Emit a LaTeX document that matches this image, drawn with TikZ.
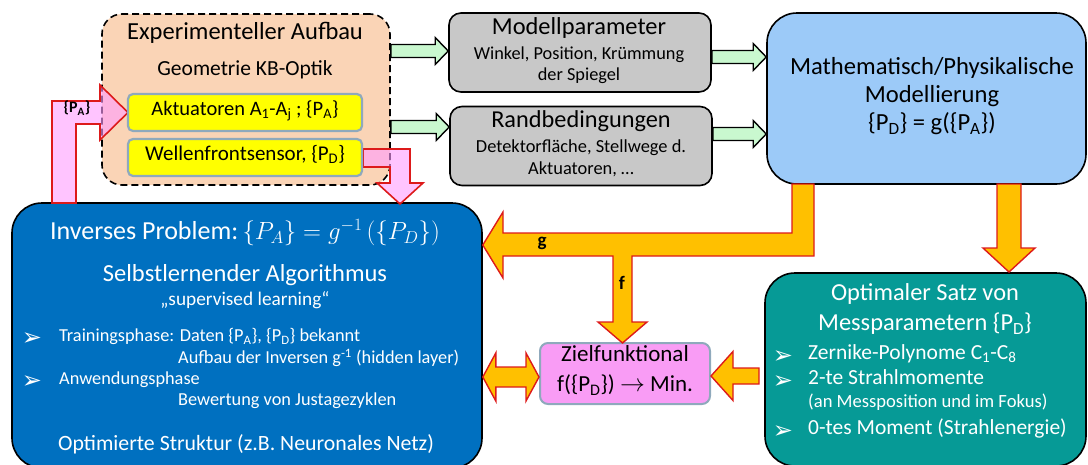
\documentclass[tikz,border=0pt]{standalone}
\usepackage{fontspec}
\setmainfont{Carlito}
\newfontfamily\dejavu{DejaVu Sans}
\usetikzlibrary{calc}
\definecolor{peach}{HTML}{FAD4B6}
\definecolor{ylw}{HTML}{FFFF00}
\definecolor{ybord}{HTML}{8FA9BC}
\definecolor{gbox}{HTML}{C8C8C8}
\definecolor{lgreen}{HTML}{C9F8CF}
\definecolor{mblue}{HTML}{9CCAF8}
\definecolor{dblue}{HTML}{0070C0}
\definecolor{teal2}{HTML}{069A96}
\definecolor{zpink}{HTML}{F99CF5}
\definecolor{orng}{HTML}{FFC000}
\definecolor{arrred}{HTML}{DD1A1A}
\definecolor{lpink}{HTML}{FF9CFF}
\newcommand\fsz[1]{\fontsize{#1pt}{#1pt}\selectfont}
\newcommand\hblock[6]{%
  \path[#1] ($(#2)+(0,{-(#4)})$) -- ($(#3)+({-(#6)},{-(#4)})$) -- ($(#3)+({-(#6)},{-(#5)})$) -- (#3)
   -- ($(#3)+({-(#6)},{#5})$) -- ($(#3)+({-(#6)},{#4})$) -- ($(#2)+(0,{#4})$) -- cycle;}
\newcommand\vblock[6]{%
  \path[#1] ($(#2)+({-(#4)},0)$) -- ($(#3)+({-(#4)},{-(#6)})$) -- ($(#3)+({-(#5)},{-(#6)})$) -- (#3)
   -- ($(#3)+({#5},{-(#6)})$) -- ($(#3)+({#4},{-(#6)})$) -- ($(#2)+({#4},0)$) -- cycle;}
\begin{document}
\begin{tikzpicture}[x=1pt,y=-1pt,
  txt/.style={inner sep=0pt, text height=0.72em, text depth=0.22em},
  wtxt/.style={txt, text=white},
  expbox/.style={draw=black, dash pattern=on 7pt off 4pt, line width=1.6pt, fill=peach, rounded corners=20pt, inner sep=0pt},
  ybox/.style={draw=ybord, line width=2.2pt, fill=ylw, rounded corners=5pt, inner sep=0pt, minimum width=234pt, minimum height=37pt},
  gybox/.style={draw=black, line width=1.6pt, fill=gbox, rounded corners=12pt, inner sep=0pt, minimum width=262pt, minimum height=79pt},
  bigbox/.style={draw=black, line width=1.6pt, rounded corners=30pt, inner sep=0pt},
  zbox/.style={draw=ybord, line width=2pt, fill=zpink, rounded corners=8pt, inner sep=0pt, minimum width=170pt, minimum height=61pt},
  greenarr/.style={fill=lgreen, draw=black, line width=1.4pt, line join=miter},
  orangearr/.style={fill=orng, draw=arrred, line width=1.4pt, line join=miter},
  pinkarr/.style={fill=lpink, fill opacity=0.6, draw=arrred, line width=1.6pt, line join=miter},
  bul/.style={inner sep=0pt, text=white, font=\dejavu\fsz{24}}
]
\useasboundingbox (0,0) rectangle (1088,464);

% ---------- boxes ----------
\node[expbox, minimum width=288pt, minimum height=171pt] (exp) at (246,99.5) {};
\node[gybox] (mp) at (580,52.5) {};
\node[gybox] (rb) at (581,146) {};
\node[bigbox, fill=mblue, minimum width=319pt, minimum height=171pt] (math) at (926.5,98.5) {};
\node[bigbox, fill=dblue, minimum width=470pt, minimum height=265pt] (inv) at (247,335.5) {};
\node[bigbox, fill=teal2, minimum width=321pt, minimum height=193pt] (opt) at (925.5,369.5) {};
\node[zbox] (ziel) at (625,373.5) {};

% ---------- pink arrows ----------
\coordinate (paTip) at (128,112.5);
\path[pinkarr] (52,203) -- (52,101) -- (100,101) -- (100,85) -- (paTip) -- (100,140) -- (100,124) -- (76,124) -- (76,203) -- cycle;
\coordinate (wTip) at (400,204);
\path[pinkarr] (363,149) -- (410,149) -- (410,183) -- (423,183) -- (wTip) -- (377,183) -- (390,183) -- (390,167) -- (363,167) -- cycle;

\node[ybox] (act) at (245,112.5) {};
\node[ybox] (wfs) at (245,157.5) {};

% ---------- green arrows ----------
\coordinate (g1s) at (exp.east |- 0,51);   \coordinate (g1e) at (mp.west |- 0,51);
\coordinate (g2s) at (exp.east |- 0,127);  \coordinate (g2e) at (rb.west |- 0,127);
\coordinate (g3s) at (mp.east |- 0,57);    \coordinate (g3e) at (math.west |- 0,57);
\coordinate (g4s) at (rb.east |- 0,134);   \coordinate (g4e) at (math.west |- 0,134);
\hblock{greenarr}{g1s}{g1e}{6.5}{13.5}{13}
\hblock{greenarr}{g2s}{g2e}{6.5}{13.5}{13}
\hblock{greenarr}{g3s}{g3e}{6.5}{13.5}{13}
\hblock{greenarr}{g4s}{g4e}{6.5}{13.5}{13}

% ---------- orange arrows ----------
\coordinate (gTip) at (inv.east |- 0,245);
\coordinate (fTip) at (622.5,343);
\path[orangearr] (792,184) -- (814,184) -- (814,256) -- (632,256) -- (632,322) -- (647,322) -- (fTip)
  -- (598,322) -- (613,322) -- (613,256) -- (503,256) -- (503,278) -- (gTip) -- (503,212) -- (503,233)
  -- (792,233) -- cycle;
\coordinate (dS) at (1009,184); \coordinate (dT) at (1009,272);
\vblock{orangearr}{dS}{dT}{12}{26}{24}
\coordinate (tS) at (759,376); \coordinate (tT) at (ziel.east |- 0,376);
\hblock{orangearr}{tS}{tT}{8}{24.5}{-22}
\coordinate (dL) at (inv.east |- 0,377); \coordinate (dR) at (ziel.west |- 0,377);
\path[orangearr] (dL) -- ($(dL)+(13,-24)$) -- ($(dL)+(13,-10)$) -- ($(dR)+(-13,-10)$) -- ($(dR)+(-13,-24)$) -- (dR)
  -- ($(dR)+(-13,24)$) -- ($(dR)+(-13,10)$) -- ($(dL)+(13,10)$) -- ($(dL)+(13,24)$) -- cycle;

% ---------- texts ----------
\node[txt, font=\fsz{24.5}] (t1) at (245,37) {Experimenteller Aufbau};
\node[txt, font=\fsz{21.5}] (t2) at (245,73) {Geometrie KB-Optik};
\node[txt, font=\fsz{20.5}] (t3) at (act) {Aktuatoren A\textsubscript{1}-A\textsubscript{j} ; \{P\textsubscript{A}\}};
\node[txt, font=\fsz{21}] (t4) at (wfs) {Wellenfrontsensor, \{P\textsubscript{D}\}};
\node[txt, font=\bfseries\fsz{16}] (t5) at (77,110) {\{P\textsubscript{A}\}};

\node[txt, font=\fsz{24.4}] (m1) at (579,32) {Modellparameter};
\node[txt, font=\fsz{18.3}] (m2) at (579,57) {Winkel, Position, Krümmung};
\node[txt, font=\fsz{18.3}] (m3) at (579,78) {der Spiegel};
\node[txt, font=\fsz{24.3}] (r1) at (581,125) {Randbedingungen};
\node[txt, font=\fsz{18.4}] (r2) at (581,150) {Detektorfläche, Stellwege d.};
\node[txt, font=\fsz{18.4}] (r3) at (581,172) {Aktuatoren, \dots};

\node[txt, font=\fsz{24.6}] (p1) at (932,72) {Mathematisch/Physikalische};
\node[txt, font=\fsz{24.6}] (p2) at (932,100) {Modellierung};
\node[txt, font=\fsz{24.6}] (p3) at (932,128) {\{P\textsubscript{D}\} = g(\{P\textsubscript{A}\})};

\node[wtxt, font=\fsz{26}] (i1) at (245,237) {Inverses Problem:\,{\fsz{23}$\{P_A\} = g^{-1}\,(\{P_D\})$}};
\node[wtxt, font=\fsz{24.5}] (i2) at (245,279) {Selbstlernender Algorithmus};
\node[wtxt, font=\fsz{19.3}] (i3) at (245,303) {„supervised learning“};
\node[bul] (b1) at (32,339) {➢};
\node[wtxt, font=\fsz{18.3}, anchor=west] (i4) at (59,339) {Trainingsphase: Daten \{P\textsubscript{A}\}, \{P\textsubscript{D}\} bekannt};
\node[wtxt, font=\fsz{18.3}, anchor=west] (i5) at (178,361) {Aufbau der Inversen g\textsuperscript{-1} (hidden layer)};
\node[bul] (b2) at (32,382) {➢};
\node[wtxt, font=\fsz{18.3}, anchor=west] (i6) at (59,382) {Anwendungsphase};
\node[wtxt, font=\fsz{18.3}, anchor=west] (i7) at (178,403) {Bewertung von Justagezyklen};
\node[wtxt, font=\fsz{21.8}] (i8) at (246,448) {Optimierte Struktur (z.B. Neuronales Netz)};

\node[wtxt, font=\fsz{24.4}] (o1) at (925,298) {Optimaler Satz von};
\node[wtxt, font=\fsz{24.4}] (o2) at (925,328) {Messparametern \{P\textsubscript{D}\}};
\node[bul] (b3) at (783,357) {➢};
\node[bul] (b4) at (783,382) {➢};
\node[bul] (b5) at (783,432) {➢};
\node[wtxt, font=\fsz{21.5}, anchor=west] (o3) at (808,357) {Zernike-Polynome C\textsubscript{1}-C\textsubscript{8}};
\node[wtxt, font=\fsz{21.5}, anchor=west] (o4) at (808,382) {2-te Strahlmomente};
\node[wtxt, font=\fsz{18.6}, anchor=west] (o5) at (808,405) {(an Messposition und im Fokus)};
\node[wtxt, font=\fsz{21.5}, anchor=west] (o6) at (808,432) {0-tes Moment (Strahlenergie)};

\node[txt, font=\fsz{23}] (z1) at (625,359) {Zielfunktional};
\node[txt, font=\fsz{23}] (z2) at (625,389) {f(\{P\textsubscript{D}\}) $\rightarrow$ Min.};

\node[txt, font=\bfseries\fsz{19}] (lg) at (542,244) {g};
\node[txt, font=\bfseries\fsz{19}] (lf) at (622,287) {f};
\end{tikzpicture}
\end{document}
